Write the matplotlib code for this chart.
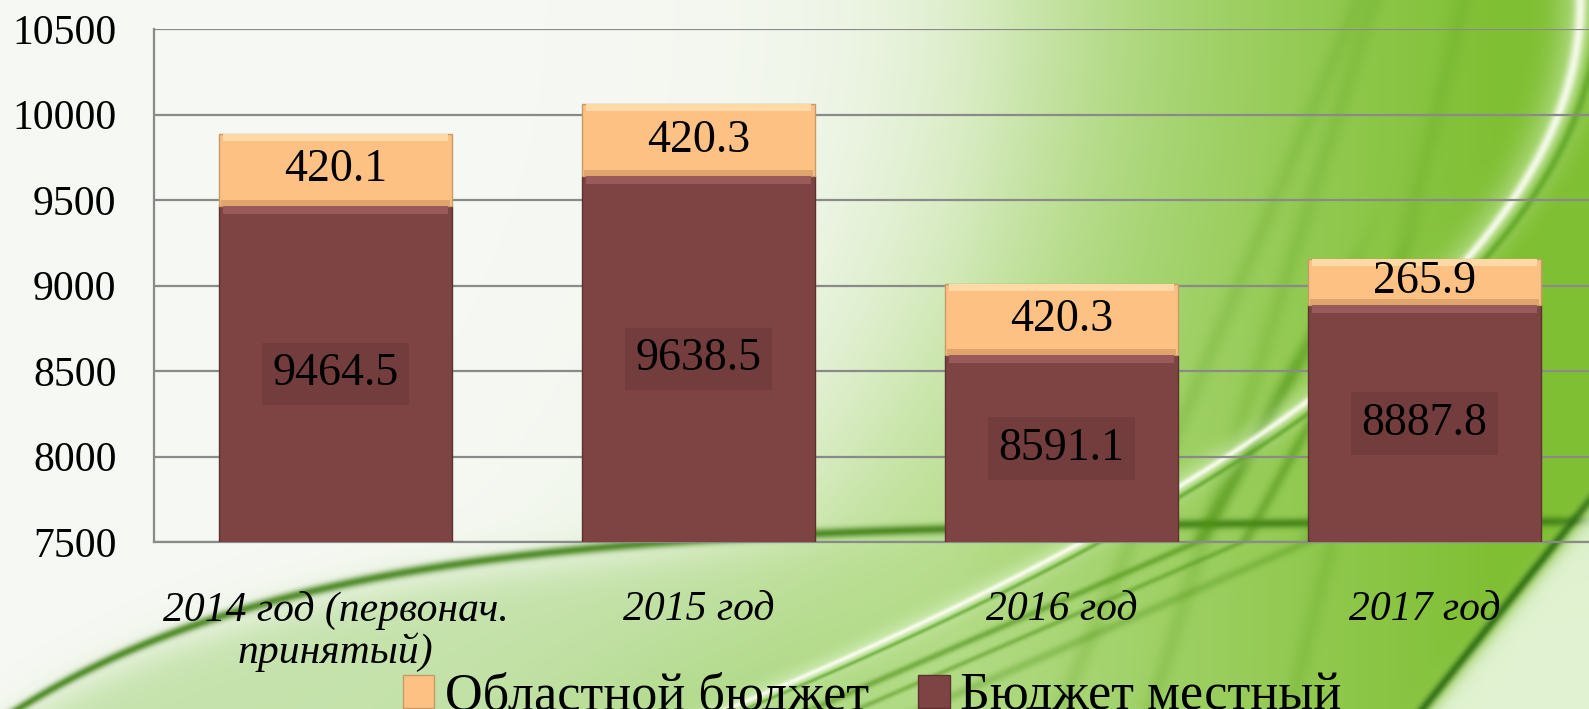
import numpy as np
import matplotlib
matplotlib.use("Agg")
import matplotlib.pyplot as plt
from matplotlib.patches import Rectangle

plt.rcParams['font.family'] = ['Liberation Serif', 'DejaVu Serif']

# data
years = ["2014 год (первонач.\nпринятый)", "2015 год", "2016 год", "2017 год"]
local_budget = [9464.5, 9638.5, 8591.1, 8887.8]
regional_budget = [420.1, 420.3, 420.3, 265.9]
series_names = ["Областной бюджет", "Бюджет местный"]

c_top = '#fdc183'
c_bot = '#7e4444'

W, H = 1589, 709

# ---- background: soft white -> green swoosh (decoration only)
Y, X = np.mgrid[0:H, 0:W].astype(float)
img = np.ones((H, W, 3)) * np.array([0.965, 0.975, 0.955])

b = 1000 - 400 * (Y / H) ** 2
g = 1 / (1 + np.exp(-(X - b) / 85))
s = np.clip((X - 950) / 550, 0, 1)[..., None]
light = np.array([0.70, 0.86, 0.52])
deep = np.array([0.50, 0.75, 0.20])
green = light * (1 - s) + deep * s
img = img * (1 - g[..., None]) + green * g[..., None]

def blend(img, mask, col):
    m = np.clip(mask, 0, 1)[..., None]
    return img * (1 - m) + np.array(col) * m

# lower-left streak and the green below it
fA = 520 + 200 * np.exp(-X / 300)
fade = 1 / (1 + np.exp((X - 800) / 80))
img = blend(img, 0.55 / (1 + np.exp(-(Y - fA - 12) / 12)) * fade, [0.62, 0.82, 0.45])
img = blend(img, 0.85 * np.exp(-((Y - fA) / 5) ** 2), [0.25, 0.50, 0.08])

# big dark bands rising to the right
for off, a, w in [(0, 0.55, 9), (45, 0.45, 7), (110, 0.30, 12)]:
    xb = np.where(Y > 540, 1200 + off - 2.3 * (Y - 540), 1200 + off + 0.55 * (540 - Y))
    img = blend(img, a * np.exp(-((X - xb) / w) ** 2) / (1 + np.exp(-(Y - 300) / 30)),
                [0.28, 0.55, 0.06])

# thin streaks top right
for x0, k in [(1150, 0.9), (1290, 0.7), (1060, 1.2)]:
    xs = x0 + k * (H - Y) * 0.35
    img = blend(img, 0.20 * np.exp(-((X - xs) / 10) ** 2), [0.35, 0.62, 0.10])

# white highlight arc on the right
xw = 1580 - 0.0017 * Y ** 2
img = blend(img, 0.35 * np.exp(-((X - xw) / 25) ** 2), [0.95, 1.0, 0.92])
img = blend(img, 0.85 * np.exp(-((X - xw) / 6) ** 2), [1.0, 1.0, 0.97])
img = blend(img, 0.6 * np.exp(-((X - xw - 18) / 5) ** 2), [0.30, 0.60, 0.08])

# pale corner bottom right
xr = 1565 - (Y - 540) * 0.8
low = 1 / (1 + np.exp(-(Y - 470) / 20))
img = blend(img, (1 / (1 + np.exp(-(X - xr) / 6))) * low, [0.88, 0.95, 0.82])
img = blend(img, 0.8 * np.exp(-((X - xr + 8) / 6) ** 2) * low, [0.15, 0.40, 0.05])

fig = plt.figure(figsize=(W / 100, H / 100), dpi=100)
bg = fig.add_axes([0, 0, 1, 1])
bg.imshow(np.clip(img, 0, 1), aspect='auto', interpolation='bilinear')
bg.axis('off')

ax = fig.add_axes([154 / W, 1 - 542 / H, 1452 / W, (542 - 29) / H])
ax.patch.set_alpha(0)

ymin, ymax = 7500, 10500
x = np.arange(len(years))
width = 0.64
tops = np.array(local_budget) + np.array(regional_budget)

ax.bar(x, local_budget, width, color=c_bot, edgecolor='#5e3030', linewidth=1, zorder=3)
ax.bar(x, regional_budget, width, bottom=local_budget, color=c_top,
       edgecolor='#c89a68', linewidth=1, zorder=3)

# simple bevel: lighter strip on top of each segment, darker strip at the bottom of the top one
px = (ymax - ymin) / (542 - 29)
ax.bar(x, 8 * px, width * 0.97, bottom=np.array(local_budget) - 8 * px, color='#9a5a5a',
       linewidth=0, zorder=3.5)
ax.bar(x, 7 * px, width * 0.97, bottom=tops - 7 * px, color='#ffd9a6', linewidth=0, zorder=3.5)
ax.bar(x, 6 * px, width * 0.99, bottom=local_budget, color='#e0a56c', linewidth=0, zorder=3.5)

ax.set_xlim(-0.5, 3.5)
ax.set_ylim(ymin, ymax)
ax.set_yticks(np.arange(7500, 10501, 500))

for i in range(len(years)):
    ax.text(x[i], (ymin + local_budget[i]) / 2, f"{local_budget[i]}", ha='center', va='center',
            fontsize=33, zorder=5,
            bbox=dict(boxstyle='square,pad=0.22', fc='#733d3d', ec='none'))
    ax.text(x[i], local_budget[i] + regional_budget[i] / 2, f"{regional_budget[i]}",
            ha='center', va='center', fontsize=33, zorder=5)

ax.set_xticks(x)
ax.set_xticklabels(years, fontsize=30, style='italic', linespacing=1.1)
ax.tick_params(axis='x', length=0, pad=35)
ax.tick_params(axis='y', length=0, pad=27, labelsize=30)

ax.yaxis.grid(True, color='#8a8a8a', linewidth=1.6, zorder=0)
ax.set_axisbelow(True)
for sp in ['top', 'right']:
    ax.spines[sp].set_visible(False)
ax.spines['left'].set_color('#8a8a8a')
ax.spines['left'].set_linewidth(1.6)
ax.spines['bottom'].set_color('#8a8a8a')
ax.spines['bottom'].set_linewidth(1.6)

handles = [Rectangle((0, 0), 1, 1, fc=c_top, ec='#c89a68'),
           Rectangle((0, 0), 1, 1, fc=c_bot, ec='#5e3030')]
fig.legend(handles, series_names, loc='upper left', bbox_to_anchor=(403 / W, 1 - 672 / H),
           ncol=2, frameon=False, fontsize=37.5, handlelength=0.6, handleheight=0.6,
           handletextpad=0.2, columnspacing=0.95, borderpad=0, borderaxespad=0)

fig.savefig('out.png', dpi=100)
